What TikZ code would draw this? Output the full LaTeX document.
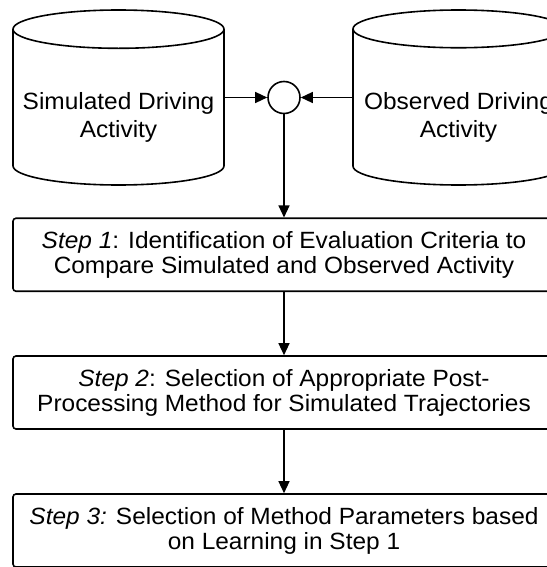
\documentclass[tikz,border=0pt]{standalone}
\usepackage{fontspec}
\setmainfont{Liberation Sans}[FakeStretch=1.04]
\usepackage{tikz}
\usetikzlibrary{shapes.geometric,arrows.meta,positioning,calc}
\tikzset{
    datastore/.style={
        cylinder, shape border rotate=90, draw=black, line width=1.6pt,
        minimum width=211pt, minimum height=175pt, aspect=0.2,
        inner sep=0pt, align=center, anchor=shape center,
        text height=66pt, text depth=5pt,
        font=\fontsize{23.5}{28}\selectfont
    },
    junction/.style={
        circle, draw=black, line width=1.6pt,
        minimum size=32pt, inner sep=0pt
    },
    stepbox/.style={
        rectangle, rounded corners=3pt, draw=black, line width=1.6pt,
        minimum width=542pt, minimum height=73pt,
        align=center, font=\fontsize{23.5}{25}\selectfont
    },
    arrow/.style={-{Triangle[length=12pt,width=11pt]},line width=1.3pt}
}
\begin{document}
\begin{tikzpicture}[x=1pt, y=-1pt]
\useasboundingbox (0,0) rectangle (546,567);

%% Driving activity stores -- left at x=118.5, right at x=458.5
\node[datastore] (sim) at (118.5, 97.5) {Simulated Driving\\Activity};
\node[datastore] (obs) at (458.5, 97.5) {Observed Driving\\Activity};

%% Comparison junction between the two stores
\node[junction] (merge) at (284, 97.5) {};

%% Steps -- boxes centred at x=284
\node[stepbox] (step1) at (284, 254.75)
    {\textit{Step 1}: Identification of Evaluation Criteria to\\Compare Simulated and Observed Activity};
\node[stepbox] (step2) at (284, 392.5)
    {\textit{Step 2}: Selection of Appropriate Post-\\Processing Method for Simulated Trajectories};
\node[stepbox] (step3) at (284, 530.5)
    {\textit{Step 3:} Selection of Method Parameters based\\on Learning in Step 1};

%% Stores -> junction
\draw[arrow] (sim.east |- merge) -- (merge.west);
\draw[arrow] (obs.west |- merge) -- (merge.east);

%% Junction -> steps
\draw[arrow] (merge.south) -- (step1.north);
\draw[arrow] (step1.south) -- (step2.north);
\draw[arrow] (step2.south) -- (step3.north);

\end{tikzpicture}
\end{document}
